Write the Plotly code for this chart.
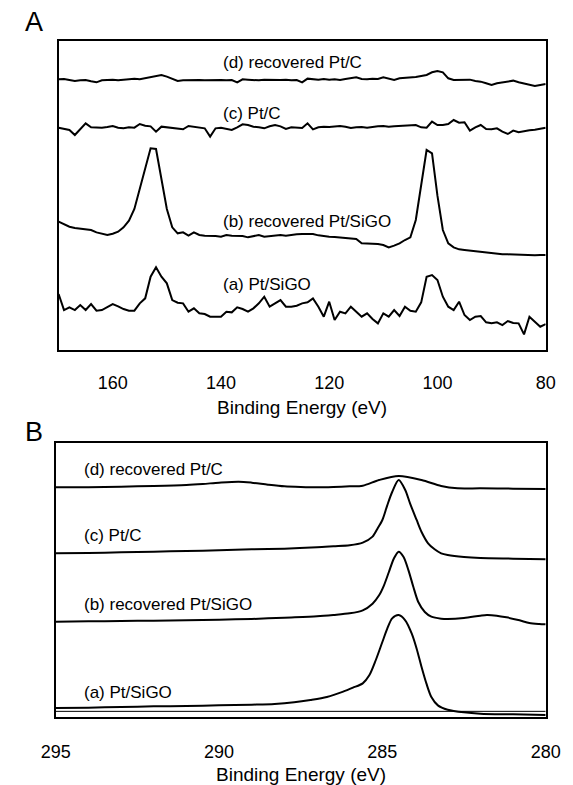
import plotly.graph_objects as go

FONT = "Liberation Sans, Arial, Helvetica, sans-serif"

# ---------------- Panel A: Si region (binding energy, eV) ----------------
energy_a = list(range(170, 79, -1))  # 170 ... 80 eV, 1 eV steps

a_pt_sigo = [
    165, 117, 125, 117, 132, 117, 135, 115, 117, 125,
    135, 128, 120, 115, 115, 137, 152, 217, 245, 217,
    197, 147, 139, 137, 112, 122, 107, 105, 97, 97,
    97, 112, 110, 125, 120, 112, 122, 137, 157, 127,
    137, 147, 127, 127, 130, 137, 140, 152, 127, 97,
    142, 87, 112, 107, 127, 112, 97, 107, 90, 77,
    107, 97, 117, 99, 127, 115, 112, 140, 217, 222,
    207, 157, 127, 117, 142, 102, 87, 97, 99, 80,
    77, 80, 72, 84, 78, 77, 44, 97, 82, 67,
    75,
]
b_rec_pt_sigo = [
    382, 375, 367, 363, 361, 359, 357, 350, 345, 342,
    346, 352, 365, 385, 420, 480, 547, 602, 600, 510,
    420, 365, 347, 350, 340, 350, 342, 340, 340, 339,
    337, 342, 340, 339, 339, 335, 339, 342, 337, 338,
    340, 342, 340, 343, 344, 345, 344, 345, 341, 338,
    337, 336, 335, 333, 332, 330, 317, 316, 317, 315,
    312, 305, 310, 317, 327, 335, 387, 487, 597, 587,
    460, 357, 317, 305, 299, 297, 295, 294, 293, 290,
    289, 287, 284, 284, 283, 282, 282, 282, 281, 282,
    282,
]
c_pt_c = [
    664, 660, 657, 642, 660, 677, 665, 664, 664, 666,
    669, 664, 662, 665, 664, 675, 670, 668, 652, 667,
    665, 664, 662, 659, 669, 667, 665, 662, 637, 662,
    664, 660, 657, 665, 674, 672, 667, 665, 662, 668,
    672, 668, 660, 665, 665, 663, 677, 659, 665, 667,
    666, 667, 669, 667, 663, 665, 666, 664, 667, 668,
    669, 667, 668, 669, 670, 670, 672, 665, 664, 682,
    672, 672, 675, 687, 679, 680, 655, 665, 672, 660,
    659, 662, 652, 645, 655, 650, 654, 656, 658, 660,
    664,
]
d_rec_pt_c = [
    809, 810, 807, 804, 806, 807, 803, 800, 806, 807,
    808, 806, 807, 810, 811, 809, 812, 815, 819, 822,
    817, 810, 804, 806, 807, 808, 807, 806, 807, 808,
    807, 806, 807, 800, 809, 808, 807, 806, 808, 807,
    806, 807, 808, 806, 807, 800, 811, 809, 808, 810,
    808, 809, 807, 810, 812, 815, 810, 809, 811, 810,
    815, 810, 807, 812, 813, 814, 816, 819, 822, 830,
    834, 830, 812, 807, 808, 807, 808, 804, 802, 797,
    792, 797, 800, 803, 805, 800, 797, 792, 789, 792,
    795,
]
tickvals_a = [160, 140, 120, 100, 80]

# ---------------- Panel B: C 1s region (binding energy, eV) ----------------
b_a_x = [295, 294, 293, 292, 291, 290, 289, 288.3, 287.7, 287.2, 286.7, 286.2, 285.9,
         285.6, 285.4, 285.2, 285.0, 284.85, 284.7, 284.5, 284.3, 284.1, 283.95,
         283.8, 283.65, 283.5, 283.3, 283.0, 282.5, 282, 281, 280]
b_a_y = [27, 28, 30, 32, 33, 35, 37, 39, 44, 51, 60, 76, 88,
         101, 125, 171, 225, 265, 296, 306, 290, 250, 205,
         150, 100, 60, 35, 22, 14, 10, 8, 6]

b_b_x = [295, 294, 293, 292, 291, 290, 289, 288, 287, 286.5, 286, 285.6, 285.3, 285.1,
         284.95, 284.8, 284.65, 284.5, 284.35, 284.2, 284.05, 283.9, 283.7, 283.5,
         283.2, 283, 282.5, 282, 281.8, 281.5, 281.2, 280.8, 280.5, 280.2, 280]
b_b_y = [286, 287, 288, 289, 290, 292, 294, 298, 302, 306, 311, 320, 340, 365,
         395, 435, 475, 496, 480, 440, 390, 345, 315, 301,
         295, 294, 297, 304, 306, 304, 299, 290, 282, 279, 278]

b_c_x = [295, 294, 293, 292, 291, 290, 289, 288, 287, 286.5, 286, 285.6, 285.3,
         285.15, 285.0, 284.85, 284.7, 284.5, 284.3, 284.15, 283.95, 283.8, 283.6,
         283.4, 283.2, 283.0, 282.5, 282, 281, 280]
b_c_y = [491, 492, 494, 496, 498, 500, 503, 505, 509, 512, 515, 523, 541,
         565, 591, 635, 675, 711, 681, 640, 591, 555, 521,
         503, 491, 486, 480, 477, 475, 473]

b_d_x = [295, 294, 293, 292, 291, 290.5, 290, 289.4, 289, 288.5, 288, 287.5, 287,
         286.5, 286, 285.6, 285.1, 284.5, 283.8, 283.2, 282.7, 282, 281, 280]
b_d_y = [689, 689, 691, 693, 696, 699, 703, 706, 703, 697, 692, 690, 689,
         690, 692, 694, 711, 723, 711, 693, 686, 686, 685, 684]
tickvals_b = [295, 290, 285, 280]

labels = ["(a) Pt/SiGO", "(b) recovered Pt/SiGO", "(c) Pt/C", "(d) recovered Pt/C"]
label_y_a = [195, 382, 705, 858]
label_y_b = [74, 339, 543, 742]

fig = go.Figure()

line_style = dict(color="black", width=2)
for ys in [a_pt_sigo, b_rec_pt_sigo, c_pt_c, d_rec_pt_c]:
    fig.add_trace(go.Scatter(x=energy_a, y=ys, mode="lines", line=line_style,
                             xaxis="x", yaxis="y", showlegend=False, hoverinfo="skip"))

for xs, ys in [(b_a_x, b_a_y), (b_b_x, b_b_y), (b_c_x, b_c_y), (b_d_x, b_d_y)]:
    fig.add_trace(go.Scatter(x=xs, y=ys, mode="lines",
                             line=dict(color="black", width=2, shape="spline", smoothing=0.8),
                             xaxis="x2", yaxis="y2", showlegend=False, hoverinfo="skip"))

# baseline under trace (a) in panel B
fig.add_shape(type="line", xref="x2", yref="y2", x0=295, x1=280, y0=17, y1=17,
              line=dict(color="black", width=1))

axis_common = dict(showline=True, mirror=True, linecolor="black", linewidth=2,
                   ticks="", showgrid=False, zeroline=False)

fig.update_layout(
    width=573, height=785,
    margin=dict(l=0, r=0, t=0, b=0),
    paper_bgcolor="white", plot_bgcolor="white",
    font=dict(family=FONT, color="black"),
    xaxis=dict(domain=[0.0803, 0.9773], anchor="y", range=[170, 80],
               tickvals=tickvals_a, tickfont=dict(size=18, family=FONT, color="black"),
               ticklabelstandoff=15, **axis_common),
    yaxis=dict(domain=[0.5541, 0.9478], anchor="x", range=[-3, 924],
               showticklabels=False, **axis_common),
    xaxis2=dict(domain=[0.0750, 0.9773], anchor="y2", range=[295, 280],
                tickvals=tickvals_b, tickfont=dict(size=18, family=FONT, color="black"),
                ticklabelstandoff=17, **axis_common),
    yaxis2=dict(domain=[0.0866, 0.4357], anchor="x2", range=[0, 822],
                showticklabels=False, **axis_common),
)

ann = []
for txt, yv in zip(labels, label_y_a):
    ann.append(dict(text=txt, x=140, y=yv, xref="x", yref="y", xanchor="left",
                    yanchor="middle", showarrow=False,
                    font=dict(size=17, family=FONT, color="black")))
for txt, yv in zip(labels, label_y_b):
    ann.append(dict(text=txt, x=294.2, y=yv, xref="x2", yref="y2", xanchor="left",
                    yanchor="middle", showarrow=False,
                    font=dict(size=17, family=FONT, color="black")))
ann.append(dict(text="Binding Energy (eV)", x=(0.0803 + 0.9773) / 2, y=1 - 407 / 785,
                xref="paper", yref="paper", xanchor="center", yanchor="middle",
                showarrow=False, font=dict(size=19, family=FONT, color="black")))
ann.append(dict(text="Binding Energy (eV)", x=(0.0750 + 0.9773) / 2, y=1 - 774 / 785,
                xref="paper", yref="paper", xanchor="center", yanchor="middle",
                showarrow=False, font=dict(size=19, family=FONT, color="black")))
ann.append(dict(text="A", x=20 / 573, y=1 - 22.5 / 785, xref="paper", yref="paper",
                xanchor="center", yanchor="middle", showarrow=False,
                font=dict(size=27, family=FONT, color="black")))
ann.append(dict(text="B", x=20 / 573, y=1 - 432 / 785, xref="paper", yref="paper",
                xanchor="center", yanchor="middle", showarrow=False,
                font=dict(size=27, family=FONT, color="black")))
fig.update_layout(annotations=ann)

fig.write_html("out.html")
